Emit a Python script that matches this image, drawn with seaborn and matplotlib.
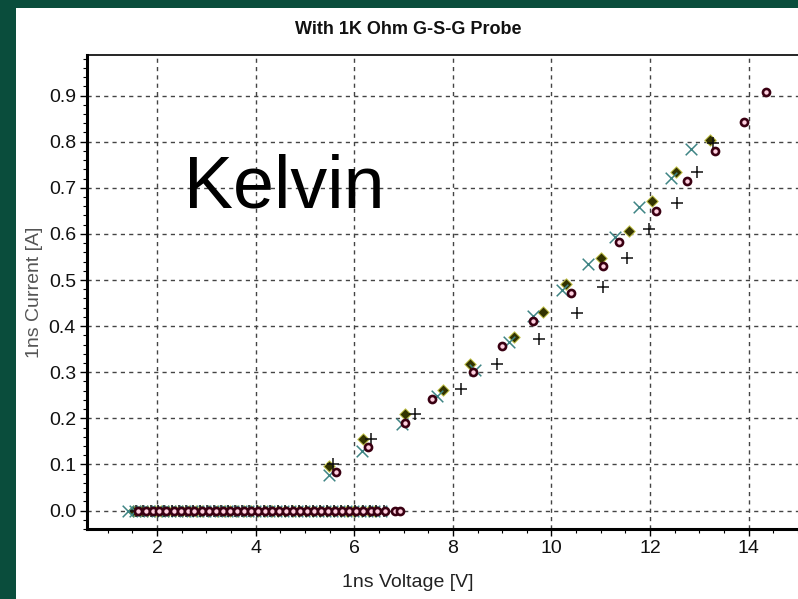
import matplotlib
matplotlib.use("Agg")
import matplotlib.pyplot as plt
import seaborn as sns
import pandas as pd
from matplotlib.ticker import MultipleLocator

# ---- data ----
diamond_x = [1.52, 1.66, 1.80, 1.95, 2.08, 2.22, 2.37, 2.50, 2.64, 2.79, 2.92, 3.06, 3.21, 3.35,
             3.48, 3.62, 3.77, 3.90, 4.04, 4.19, 4.33, 4.46, 4.60, 4.75, 4.88, 5.02, 5.17, 5.31,
             5.44, 5.58, 5.73, 5.86, 6.00, 6.15, 6.29, 6.42,
             5.49, 6.18, 7.03, 7.81, 8.35, 9.23, 9.82, 10.29, 11.01, 11.58, 12.04, 12.53, 13.22]
diamond_y = [0.0] * 36 + [0.097, 0.155, 0.210, 0.262, 0.318, 0.376, 0.430, 0.492, 0.548, 0.607,
                          0.672, 0.735, 0.803]

xmark_x = [1.41, 1.56, 1.70, 1.84, 1.99, 2.13, 2.27, 2.41, 2.56, 2.70, 2.84, 2.98, 3.13, 3.27,
           3.41, 3.55, 3.70, 3.84, 3.98, 4.12, 4.27, 4.41, 4.55, 4.69, 4.84, 4.98, 5.12, 5.26,
           5.41, 5.55, 5.69, 5.83, 5.98, 6.12, 6.26, 6.40, 6.55,
           5.48, 6.15, 6.97, 7.67, 8.44, 9.14, 9.62, 10.21, 10.74, 11.28, 11.78, 12.42, 12.84]
xmark_y = [0.0] * 37 + [0.078, 0.130, 0.187, 0.249, 0.305, 0.365, 0.422, 0.479, 0.534, 0.594,
                        0.659, 0.722, 0.784]

plus_x = [1.58, 1.72, 1.87, 2.01, 2.15, 2.30, 2.44, 2.58, 2.73, 2.87, 3.01, 3.16, 3.30, 3.44,
          3.59, 3.73, 3.87, 4.02, 4.16, 4.30, 4.45, 4.59, 4.73, 4.88, 5.02, 5.16, 5.31, 5.45,
          5.59, 5.74, 5.88, 6.02, 6.17, 6.31, 6.45, 6.60,
          5.57, 6.35, 7.24, 8.17, 8.89, 9.74, 10.52, 11.04, 11.53, 11.97, 12.54, 12.95, 13.28]
plus_y = [0.0] * 36 + [0.101, 0.156, 0.209, 0.263, 0.318, 0.372, 0.428, 0.485, 0.547, 0.610,
                       0.668, 0.735, 0.797]

circle_x = [1.62, 1.77, 1.91, 2.05, 2.19, 2.34, 2.48, 2.62, 2.76, 2.91, 3.05, 3.19, 3.33, 3.48,
            3.62, 3.76, 3.90, 4.05, 4.19, 4.33, 4.47, 4.62, 4.76, 4.90, 5.04, 5.19, 5.33, 5.47,
            5.61, 5.76, 5.90, 6.04, 6.18, 6.33, 6.47, 6.63, 6.82, 6.93,
            5.63, 6.28, 7.03, 7.58, 8.40, 8.99, 9.63, 10.40, 11.05, 11.37, 12.13, 12.75, 13.32,
            13.91, 14.36]
circle_y = [0.0] * 38 + [0.084, 0.137, 0.189, 0.242, 0.300, 0.356, 0.411, 0.471, 0.530, 0.583,
                         0.649, 0.714, 0.780, 0.842, 0.907]

title = "With 1K Ohm G-S-G Probe"
xlabel = "1ns Voltage [V]"
ylabel = "1ns Current [A]"
annotation = "Kelvin"
xticks = [2, 4, 6, 8, 10, 12, 14]
yticks = [0.0, 0.1, 0.2, 0.3, 0.4, 0.5, 0.6, 0.7, 0.8, 0.9]

# ---- figure ----
sns.set_style("white")
narrow = ["Liberation Sans Narrow", "Liberation Sans", "DejaVu Sans"]
plt.rcParams["font.family"] = narrow

fig = plt.figure(figsize=(7.98, 5.99), dpi=100)
fig.patch.set_facecolor("#0a4d3c")

# white panel behind the chart
bg = fig.add_axes([16 / 798, 0, 1 - 16 / 798, 1 - 8 / 599], zorder=-5)
bg.set_facecolor("white")
bg.set_xticks([])
bg.set_yticks([])
for s in bg.spines.values():
    s.set_visible(False)

ax = fig.add_axes([87 / 798, 1 - 529 / 599, 1 - 87 / 798, (529 - 55) / 599], zorder=1)
ax.set_facecolor("white")

df_d = pd.DataFrame({"v": diamond_x, "i": diamond_y})
df_x = pd.DataFrame({"v": xmark_x, "i": xmark_y})
df_p = pd.DataFrame({"v": plus_x, "i": plus_y})
df_c = pd.DataFrame({"v": circle_x, "i": circle_y})

sns.scatterplot(data=df_d, x="v", y="i", ax=ax, marker="D", s=34, color="#333300",
                edgecolor="#c8c850", linewidth=0.7, zorder=3)
sns.scatterplot(data=df_x, x="v", y="i", ax=ax, marker="x", s=70, color="#3f8585",
                linewidth=1.1, zorder=4)
sns.scatterplot(data=df_p, x="v", y="i", ax=ax, marker="+", s=80, color="#111111",
                linewidth=1.1, zorder=4)
sns.scatterplot(data=df_c, x="v", y="i", ax=ax, marker="o", s=26, facecolor="#ffd0e0",
                edgecolor="#3a0012", linewidth=1.9, zorder=5)

ax.set_xlim(0.58, 15.0)
ax.set_ylim(-0.04, 0.988)
ax.set_xticks(xticks)
ax.set_yticks(yticks)
ax.set_xticklabels([str(t) for t in xticks])
ax.set_yticklabels([f"{t:.1f}" for t in yticks])
ax.xaxis.set_minor_locator(MultipleLocator(0.5))
ax.yaxis.set_minor_locator(MultipleLocator(0.02))
ax.tick_params(axis="both", which="major", direction="out", length=5, width=1,
               color="black", labelsize=14, labelcolor="#111111", pad=3)
ax.tick_params(axis="both", which="minor", direction="out", length=3, width=0.8, color="black")
ax.tick_params(bottom=True, left=True, which="both")

ax.grid(True, which="major", linestyle=(0, (3, 3)), color="#444444", linewidth=1.0)
ax.set_axisbelow(True)

for s in ["left", "bottom"]:
    ax.spines[s].set_linewidth(2.2)
    ax.spines[s].set_color("black")
ax.spines["top"].set_linewidth(1.2)
ax.spines["top"].set_color("black")
ax.spines["right"].set_visible(False)

ax.set_xlabel(xlabel, fontsize=14, color="#222222", labelpad=2)
ax.set_ylabel(ylabel, fontsize=14, color="#555555", labelpad=4)
ax.xaxis.set_label_coords((408 - 87) / (798 - 87), -0.095)

fig.text(408 / 798, 1 - 30 / 599, title, ha="center", va="center", fontsize=13,
         fontweight="bold", color="#111111")

fig.text(184 / 798, 1 - 208 / 599, annotation, ha="left", va="baseline", fontsize=53,
         family=["Liberation Sans", "DejaVu Sans"], color="black", zorder=10)

fig.savefig("out.png", dpi=100, facecolor=fig.get_facecolor())
